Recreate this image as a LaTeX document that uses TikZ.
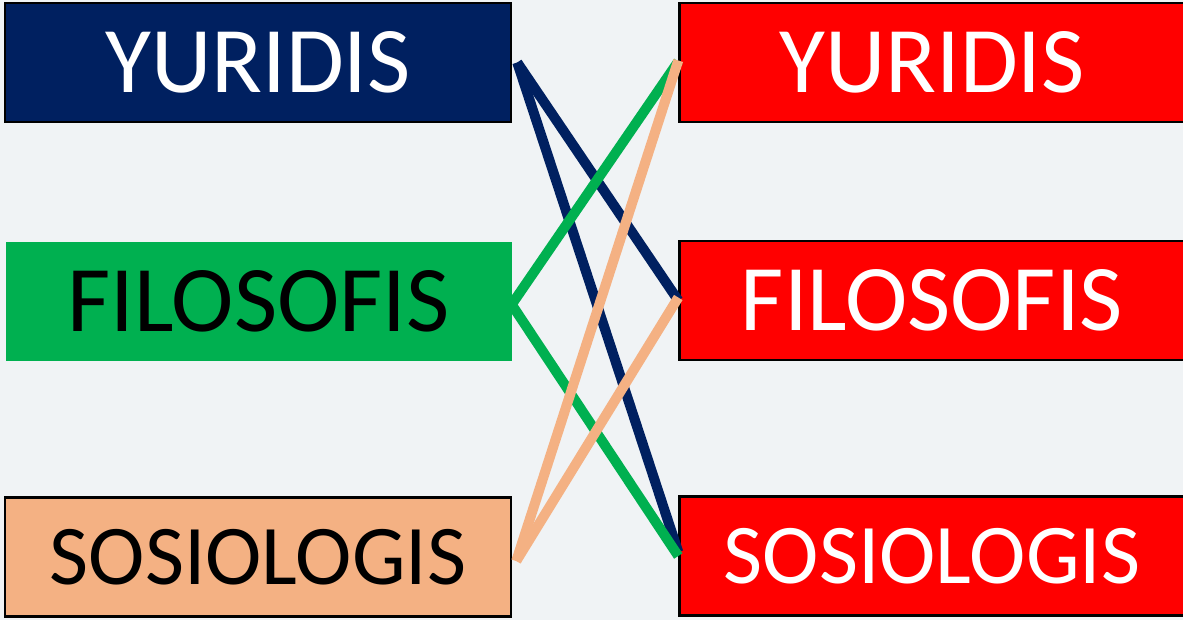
\documentclass[tikz,border=0pt]{standalone}
\usepackage{fontspec}
\setmainfont{Carlito}
\definecolor{navyblue}{HTML}{002060}
\definecolor{leafgreen}{HTML}{00B050}
\definecolor{peach}{HTML}{F4B183}
\definecolor{bgray}{HTML}{F0F3F5}
\begin{document}
\begin{tikzpicture}[x=1pt,y=-1pt,
  term/.style={minimum width=506pt, minimum height=119pt, inner sep=0pt,
    font=\fontsize{94}{100}\selectfont},
  framed/.style={term, draw=black, line width=2.5pt},
  small/.style={font=\fontsize{85}{90}\selectfont},
  link/.style={line width=10pt}]
% Background
\fill[bgray] (0,0) rectangle (1183,620);
\useasboundingbox (0,0) rectangle (1183,620);

% Left column
\node[framed, fill=navyblue, text=white] (ly) at (258,62.5) {\raisebox{-3pt}{YURIDIS}};
\node[term, fill=leafgreen, text=black] (lf) at (258.5,301.5) {FILOSOFIS};
\node[framed, small, fill=peach, text=black] (ls) at (258,557) {SOSIOLOGIS};

% Right column
\node[framed, fill=red, text=white, minimum width=505pt] (ry) at (932,62.5) {\raisebox{-3pt}{YURIDIS}};
\node[framed, fill=red, text=white, minimum width=505pt] (rf) at (932,300.5) {FILOSOFIS};
\node[framed, small, fill=red, text=white, minimum width=505pt] (rs) at (932,556) {SOSIOLOGIS};

% Connections
\draw[link, navyblue] ([xshift=5pt]ly.east) -- (rf.west);
\draw[link, navyblue] ([xshift=5pt]ly.east) -- ([yshift=4pt]rs.west);
\draw[link, leafgreen] ([yshift=-3pt]lf.east) -- ([yshift=1pt]ry.west);
\draw[link, leafgreen] ([yshift=-3pt]lf.east) -- (rs.west);
\draw[link, peach] ([xshift=4pt,yshift=-4pt]ls.east) -- ([yshift=2pt]ry.west);
\draw[link, peach] ([xshift=4pt,yshift=-4pt]ls.east) -- ([yshift=3pt]rf.west);
\end{tikzpicture}
\end{document}
